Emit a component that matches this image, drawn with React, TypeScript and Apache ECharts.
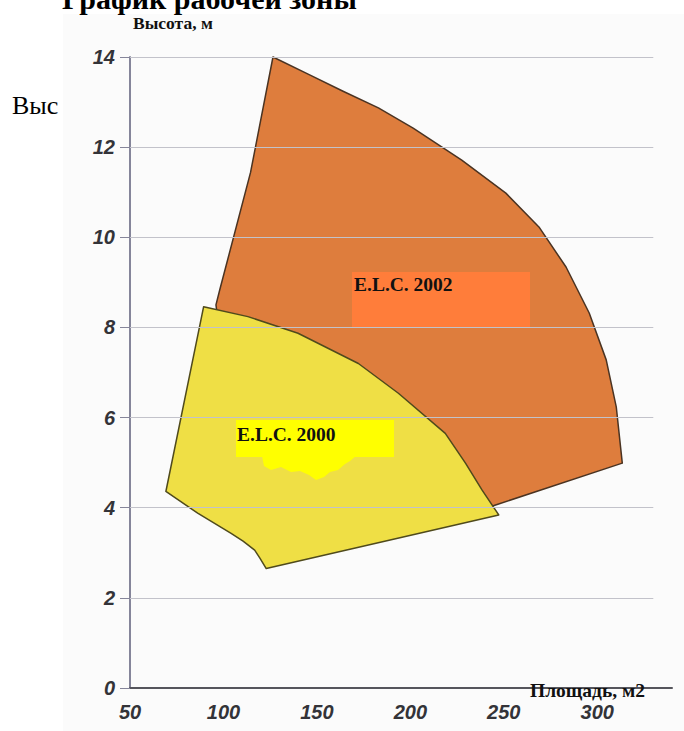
import React, { useEffect, useRef } from 'react';
import * as echarts from 'echarts';

// Axis ticks / labels
const X_TICKS = [50, 100, 150, 200, 250, 300];
const Y_TICKS = [0, 2, 4, 6, 8, 10, 12, 14];
const X_MIN = 50;
const X_MAX = 340;
const Y_MIN = 0;
const Y_MAX = 14;

// Working zone outlines: [area m2, height m]
const ELC2002_NAME = 'E.L.C. 2002';
const ELC2002: [number, number][] = [
  [126.5, 14.0],
  [145.3, 13.62],
  [164.0, 13.24],
  [182.9, 12.87],
  [201.5, 12.42],
  [227.5, 11.71],
  [251.1, 10.98],
  [268.8, 10.23],
  [283.3, 9.34],
  [295.7, 8.32],
  [304.8, 7.28],
  [310.2, 6.23],
  [313.4, 4.99],
  [245.6, 4.06],
  [232.0, 3.87],
  [190.0, 4.6],
  [140.0, 5.8],
  [100.0, 7.2],
  [96.0, 8.5],
  [98.0, 8.83],
  [114.5, 11.44],
];

const ELC2000_NAME = 'E.L.C. 2000';
const ELC2000: [number, number][] = [
  [89.4, 8.46],
  [113.1, 8.24],
  [139.9, 7.87],
  [172.2, 7.2],
  [193.6, 6.54],
  [218.7, 5.65],
  [229.5, 4.99],
  [238.4, 4.39],
  [247.3, 3.84],
  [122.9, 2.65],
  [119.5, 2.88],
  [116.7, 3.06],
  [110.5, 3.26],
  [104.1, 3.43],
  [86.2, 3.88],
  [69.2, 4.36],
];

const Y_AXIS_TITLE = 'Высота, м';
const X_AXIS_TITLE = 'Площадь, м2';
const PAGE_TITLE = 'График рабочей зоны';
const SIDE_TEXT = 'Выс';

export default function App() {
  const ref = useRef<HTMLDivElement>(null);

  useEffect(() => {
    if (!ref.current) return;
    const chart = echarts.init(ref.current, null, { renderer: 'svg' });

    const polygonSeries = (
      name: string,
      pts: [number, number][],
      fill: string,
      stroke: string,
      z: number
    ) => ({
      type: 'custom',
      name,
      coordinateSystem: 'cartesian2d',
      data: [pts[0]],
      z,
      silent: true,
      clip: false,
      renderItem: (_params: any, api: any) => ({
        type: 'polygon',
        shape: { points: pts.map((p) => api.coord(p)) },
        style: { fill, stroke, lineWidth: 1.5, lineJoin: 'round' },
      }),
    });

    const axisLabelStyle = {
      fontFamily: '"Liberation Sans", Arial, sans-serif',
      fontStyle: 'italic',
      fontWeight: 'bold',
      fontSize: 20,
      color: '#333338',
    };

    const gridLines: any[] = [
      ...Y_TICKS.filter((v) => v > Y_MIN).map((v) => [
        { coord: [X_MIN, v] },
        { coord: [330, v] },
      ]),
      ...X_TICKS.filter((v) => v > X_MIN).map((v) => [
        { coord: [v, Y_MIN] },
        { coord: [v, 14.3] },
      ]),
    ];

    const serif = '"Liberation Serif", "Times New Roman", serif';

    chart.setOption({
      animation: false,
      backgroundColor: '#ffffff',
      grid: { left: 130, right: 12, top: 57, bottom: 43, containLabel: false },
      xAxis: {
        type: 'value',
        min: X_MIN,
        max: X_MAX,
        interval: 50,
        axisLine: { show: true, lineStyle: { color: '#55555c', width: 2 } },
        axisTick: { show: false },
        splitLine: { show: false },
        axisLabel: {
          ...axisLabelStyle,
          margin: 14,
          formatter: (v: number) => (X_TICKS.includes(v) ? String(v) : ''),
        },
      },
      yAxis: {
        type: 'value',
        min: Y_MIN,
        max: Y_MAX,
        interval: 2,
        axisLine: { show: true, lineStyle: { color: '#85859a', width: 2 } },
        axisTick: { show: true, length: 10, lineStyle: { color: '#85859a', width: 1 } },
        splitLine: { show: false },
        axisLabel: {
          ...axisLabelStyle,
          margin: 15,
          formatter: (v: number) => (Y_TICKS.includes(v) ? String(v) : ''),
        },
      },
      series: [
        {
          type: 'line',
          data: [],
          z: 1,
          silent: true,
          markLine: {
            silent: true,
            symbol: 'none',
            animation: false,
            label: { show: false },
            lineStyle: { color: '#c2c2ca', width: 1, type: 'solid' },
            data: [
              ...gridLines,
              [
                { coord: [X_MIN, Y_MAX], lineStyle: { color: '#85859a', width: 2 } },
                { coord: [X_MIN, 14.4] },
              ],
            ],
          },
        },
        polygonSeries(ELC2002_NAME, ELC2002, '#de7d3d', '#4a3322', 3),
        polygonSeries(ELC2000_NAME, ELC2000, '#efdf45', '#4f4a1c', 4),
      ],
      graphic: [
        {
          type: 'rect',
          z: -10,
          silent: true,
          shape: { x: 63, y: 14, width: 621, height: 717 },
          style: { fill: '#fbfbfb' },
        },
        {
          type: 'text',
          x: 62,
          y: 13,
          z: 50,
          style: {
            text: PAGE_TITLE,
            font: `bold 30px ${serif}`,
            fill: '#000',
            verticalAlign: 'bottom',
          },
        },
        {
          type: 'text',
          x: 12,
          y: 105,
          z: 50,
          style: {
            text: SIDE_TEXT,
            font: `26px ${serif}`,
            fill: '#000',
            verticalAlign: 'middle',
          },
        },
        {
          type: 'text',
          x: 133,
          y: 23,
          z: 50,
          style: {
            text: Y_AXIS_TITLE,
            font: `bold 17.5px ${serif}`,
            fill: '#111',
            verticalAlign: 'middle',
          },
        },
        {
          type: 'text',
          x: 530,
          y: 690,
          z: 50,
          style: {
            text: X_AXIS_TITLE,
            font: `bold 19.5px ${serif}`,
            fill: '#111',
            verticalAlign: 'middle',
          },
        },
        {
          type: 'rect',
          z: 40,
          silent: true,
          shape: { x: 352, y: 272, width: 178, height: 55 },
          style: { fill: '#ff7d3a' },
        },
        {
          type: 'text',
          x: 354,
          y: 284,
          z: 50,
          style: {
            text: ELC2002_NAME,
            font: `bold 19.5px ${serif}`,
            fill: '#111',
            verticalAlign: 'middle',
          },
        },
        {
          type: 'rect',
          z: 40,
          silent: true,
          shape: { x: 236, y: 420, width: 158, height: 37 },
          style: { fill: '#ffff00' },
        },
        {
          type: 'polygon',
          z: 40,
          silent: true,
          shape: {
            points: [
              [262, 456], [264, 466], [271, 470], [281, 467], [291, 472], [300, 471],
              [309, 475], [316, 480], [324, 477], [330, 472], [338, 470], [345, 464],
              [350, 461], [356, 456],
            ],
          },
          style: { fill: '#ffff00' },
        },
        {
          type: 'text',
          x: 237,
          y: 434,
          z: 50,
          style: {
            text: ELC2000_NAME,
            font: `bold 19.5px ${serif}`,
            fill: '#111',
            verticalAlign: 'middle',
          },
        },
      ],
    });

    return () => chart.dispose();
  }, []);

  return (
    <div
      ref={ref}
      style={{ position: 'fixed', left: 0, top: 0, width: 684, height: 731 }}
    />
  );
}
